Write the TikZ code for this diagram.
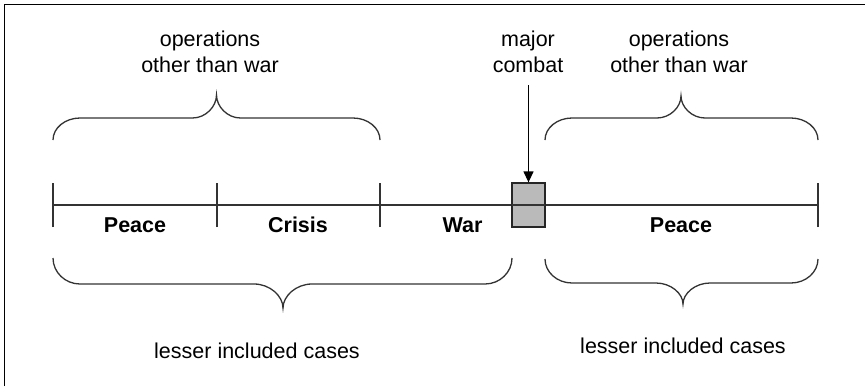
\documentclass[tikz,border=0pt]{standalone}
\usepackage{fontspec}
\setmainfont{Liberation Sans}
\usetikzlibrary{arrows.meta}
\newcommand{\mybrace}[8]{% x1,x2,xm,yend,yh,ytip,r,w
 \draw[bracestyle] (#1,#4) .. controls (#1,{#5+0.45*(#4-#5)}) and ({#1+0.45*#7},#5) .. ({#1+#7},#5) -- ({#3-#8},#5) .. controls ({#3-0.45*#8},#5) and (#3,{#5+0.5*(#6-#5)}) .. (#3,#6) .. controls (#3,{#5+0.5*(#6-#5)}) and ({#3+0.45*#8},#5) .. ({#3+#8},#5) -- ({#2-#7},#5) .. controls ({#2-0.45*#7},#5) and (#2,{#5+0.45*(#4-#5)}) .. (#2,#4);}
\begin{document}
\begin{tikzpicture}[x=1pt,y=-1pt,
  lbl/.style={font=\fontsize{21.5}{26}\selectfont, inner sep=0pt, anchor=base, align=center},
  blbl/.style={lbl, font=\fontsize{21.5}{26}\selectfont\bfseries},
  linestyle/.style={line width=1.3pt, draw=black!80},
  bracestyle/.style={line width=1.3pt, draw=black!80},
  combatbox/.style={draw=black!85, line width=1.3pt, fill=black!27, minimum width=33pt, minimum height=44pt, inner sep=0pt},
  arr/.style={line width=1.3pt, -{Triangle[length=11pt,width=10pt]}}]
\useasboundingbox (0,0) rectangle (865,386);
\fill[white] (0,0) rectangle (865,386);
% frame (top and left visible)
\draw[line width=1.6pt, black] (4.5,386) -- (4.5,4.5) -- (865,4.5);
% combat box
\node[combatbox] (box) at (528.5,205) {};
% timeline
\coordinate (t0) at (53,205);
\coordinate (t1) at (217,205);
\coordinate (t2) at (380,205);
\coordinate (t3) at (818,205);
\draw[linestyle] (t0) -- (t3);
\foreach \t in {t0,t1,t2,t3} \draw[linestyle] ([yshift=-22pt]\t) -- ([yshift=22pt]\t);
\draw[draw=black!85, line width=1.3pt] (box.south west) rectangle (box.north east);
% labels
\node[lbl] (ootw1) at (210,72.7) {operations\\other than war};
\node[lbl] (ootw2) at (679,72.7) {operations\\other than war};
\node[lbl] (mc) at (528,72.7) {major\\combat};
\node[blbl] (peace1) at (135,232.7) {Peace};
\node[blbl] (crisis) at (298,232.7) {Crisis};
\node[blbl] (war) at (462.5,232.7) {War};
\node[blbl] (peace2) at (681,232.7) {Peace};
\node[lbl] (lic1) at (257,358) {lesser included cases};
\node[lbl] (lic2) at (683,353) {lesser included cases};
% arrow
\coordinate (astart) at (528.5,85);
\draw[arr] (astart) -- (box.north);
% braces
\mybrace{53}{380}{216.5}{140}{118}{95}{27}{24}
\mybrace{545}{818}{681}{140}{118}{96}{27}{24}
\mybrace{53}{512}{283}{258}{284}{308}{27}{29}
\mybrace{545}{818}{683}{259}{283}{304}{27}{27}
\end{tikzpicture}
\end{document}
